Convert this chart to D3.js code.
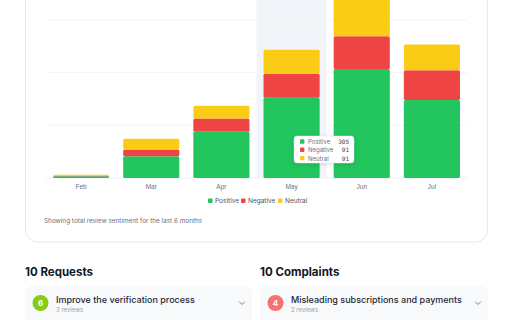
<!DOCTYPE html>
<html>
<head>
<meta charset="utf-8">
<script src="https://cdn.jsdelivr.net/npm/d3@7"></script>
<style>
  html, body { margin: 0; padding: 0; background: #fff; }
  svg { display: block; font-family: Inter, "Noto Sans", sans-serif; }
</style>
</head>
<body>
<svg id="chart" width="512" height="320"></svg>
<script>
// Chart data
const months = ["Feb", "Mar", "Apr", "May", "Jun", "Jul"];
const positive = [7, 83, 176, 305, 414, 296];
const negative = [2, 25, 50, 91, 124, 113];
const neutral = [3, 41, 48, 91, 150, 98];
const seriesNames = ["Positive", "Negative", "Neutral"];
const seriesColors = ["#22c55e", "#ef4444", "#facc15"];
const yTicks = [0, 200, 400, 600];
const highlighted = "May";

// Lists below the chart
const requests = [{count: 6, title: "Improve the verification process", reviews: "3 reviews"}];
const complaints = [{count: 4, title: "Misleading subscriptions and payments", reviews: "2 reviews"}];

const svg = d3.select("svg#chart");

// Card around the chart (top runs above the window)
svg.append("rect")
  .attr("x", 25.5).attr("y", -40)
  .attr("width", 462).attr("height", 282)
  .attr("rx", 12)
  .attr("fill", "#fff")
  .attr("stroke", "#e5e7eb");

// Scales
const xScale = d3.scaleBand()
  .domain(months)
  .range([46, 467])
  .paddingInner(0.2)
  .paddingOuter(0.1);

const yScale = d3.scaleLinear()
  .domain([0, 600])
  .range([178, 20]);

// Hover highlight behind May
const step = xScale.step();
svg.append("rect")
  .attr("x", xScale(highlighted) + xScale.bandwidth() / 2 - step / 2)
  .attr("y", -10)
  .attr("width", step)
  .attr("height", 188)
  .attr("fill", "#f1f5f9");

// Gridlines
svg.append("g")
  .selectAll("line")
  .data(yTicks)
  .enter()
  .append("line")
  .attr("x1", 46).attr("x2", 467)
  .attr("y1", d => yScale(d)).attr("y2", d => yScale(d))
  .attr("stroke", d => d === 0 ? "#eceef1" : "#f3f4f6")
  .attr("stroke-width", 1);

// Stack the series
const rows = months.map((m, i) => ({month: m, Positive: positive[i], Negative: negative[i], Neutral: neutral[i]}));
const stacked = d3.stack().keys(seriesNames)(rows);

svg.append("g")
  .selectAll("g")
  .data(stacked)
  .enter()
  .append("g")
  .attr("fill", (d, i) => seriesColors[i])
  .selectAll("rect")
  .data(d => d)
  .enter()
  .append("rect")
  .attr("x", d => xScale(d.data.month))
  .attr("y", d => yScale(d[1]))
  .attr("width", xScale.bandwidth())
  .attr("height", d => yScale(d[0]) - yScale(d[1]))
  .attr("rx", 1.5);

// X axis (labels only)
const xAxis = d3.axisBottom(xScale).tickSize(0).tickPadding(6);
const xAxisG = svg.append("g")
  .attr("transform", "translate(0,178)")
  .call(xAxis);
xAxisG.select(".domain").remove();
xAxisG.selectAll("text")
  .attr("fill", "#6b7280")
  .style("font-size", "6.5px");

// Legend
const legend = svg.append("g").attr("transform", "translate(0,201)");
const legendX = [208, 241, 278];
seriesNames.forEach((name, i) => {
  legend.append("rect")
    .attr("x", legendX[i]).attr("y", -2.5)
    .attr("width", 4.5).attr("height", 4.5)
    .attr("rx", 1)
    .attr("fill", seriesColors[i]);
  legend.append("text")
    .attr("x", legendX[i] + 7).attr("y", 0)
    .attr("dominant-baseline", "central")
    .attr("fill", "#4b5563")
    .style("font-size", "6.5px")
    .text(name);
});

// Tooltip for May
const tipIdx = months.indexOf(highlighted);
const tipValues = [positive[tipIdx], negative[tipIdx], neutral[tipIdx]];
const tip = svg.append("g").attr("transform", "translate(294,136)");
tip.append("rect")
  .attr("x", 0).attr("y", 0)
  .attr("width", 60).attr("height", 27)
  .attr("rx", 3)
  .attr("fill", "#fff")
  .attr("stroke", "#e5e7eb")
  .attr("stroke-width", 0.5)
  .style("filter", "drop-shadow(0 1px 2px rgba(0,0,0,0.12))");
seriesNames.forEach((name, i) => {
  const cy = 5.5 + i * 8.3;
  tip.append("rect")
    .attr("x", 6).attr("y", cy - 2.2)
    .attr("width", 4.4).attr("height", 4.4)
    .attr("rx", 0.8)
    .attr("fill", seriesColors[i]);
  tip.append("text")
    .attr("x", 14).attr("y", cy)
    .attr("dominant-baseline", "central")
    .attr("fill", "#6b7280")
    .style("font-size", "6px")
    .text(name);
  tip.append("text")
    .attr("x", 55).attr("y", cy)
    .attr("text-anchor", "end")
    .attr("dominant-baseline", "central")
    .attr("fill", "#374151")
    .style("font-size", "6px")
    .style("font-family", "'DejaVu Sans Mono', monospace")
    .text(tipValues[i]);
});

// Footnote
svg.append("text")
  .attr("x", 44).attr("y", 221)
  .attr("dominant-baseline", "central")
  .attr("fill", "#6b7280")
  .style("font-size", "6.4px")
  .text("Showing total review sentiment for the last 6 months");

// Lists
function drawList(x, width, heading, items, badgeColor) {
  svg.append("text")
    .attr("x", x).attr("y", 271.5)
    .attr("dominant-baseline", "central")
    .attr("fill", "#111827")
    .style("font-size", "11.5px")
    .style("font-weight", 700)
    .text(heading);
  items.forEach(item => {
    const g = svg.append("g").attr("transform", "translate(" + x + ",286)");
    g.append("rect")
      .attr("width", width).attr("height", 50)
      .attr("rx", 8)
      .attr("fill", "#f8f9fb");
    g.append("circle")
      .attr("cx", 15.5).attr("cy", 17)
      .attr("r", 8)
      .attr("fill", badgeColor);
    g.append("text")
      .attr("x", 15.5).attr("y", 17.3)
      .attr("text-anchor", "middle")
      .attr("dominant-baseline", "central")
      .attr("fill", "#fff")
      .style("font-size", "8px")
      .style("font-weight", 700)
      .text(item.count);
    g.append("text")
      .attr("x", 31).attr("y", 13)
      .attr("dominant-baseline", "central")
      .attr("fill", "#1f2937")
      .style("font-size", "9px")
      .style("font-weight", 500)
      .text(item.title);
    g.append("text")
      .attr("x", 31).attr("y", 23.5)
      .attr("dominant-baseline", "central")
      .attr("fill", "#9ca3af")
      .style("font-size", "6px")
      .text(item.reviews);
    g.append("path")
      .attr("d", "M" + (width - 12.5) + ",16 l2.5,2.5 l2.5,-2.5")
      .attr("fill", "none")
      .attr("stroke", "#6b7280")
      .attr("stroke-width", 0.9)
      .attr("stroke-linecap", "round")
      .attr("stroke-linejoin", "round");
  });
}

drawList(25, 227, "10 Requests", requests, "#84cc16");
drawList(260, 228, "10 Complaints", complaints, "#f87171");
</script>
</body>
</html>
